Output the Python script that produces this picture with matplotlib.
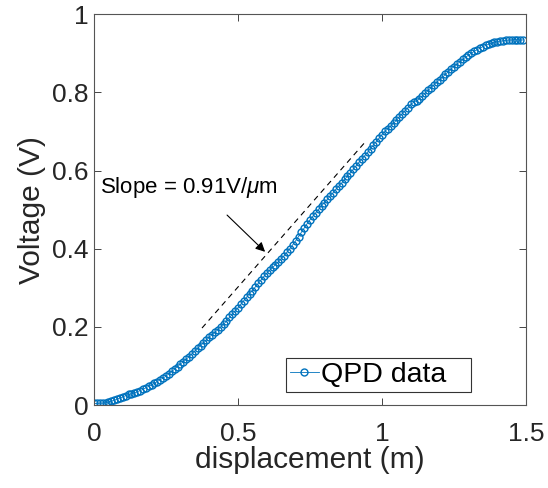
import numpy as np
import matplotlib
matplotlib.use("Agg")
import matplotlib.pyplot as plt

plt.rcParams['font.family'] = ['Liberation Sans', 'DejaVu Sans']
plt.rcParams['mathtext.fontset'] = 'custom'
plt.rcParams['mathtext.it'] = 'Liberation Sans:italic'
plt.rcParams['mathtext.rm'] = 'Liberation Sans'

# QPD voltage, one sample every 0.01 m starting at 0
step = 0.01
voltage = [
    0.004, 0.004, 0.005, 0.005, 0.006, 0.008, 0.010, 0.012, 0.015, 0.018,
    0.021, 0.024, 0.027, 0.029, 0.031, 0.034, 0.037, 0.040, 0.044, 0.048,
    0.052, 0.056, 0.060, 0.065, 0.069, 0.074, 0.080, 0.086, 0.092, 0.098,
    0.105, 0.111, 0.117, 0.124, 0.131, 0.138, 0.145, 0.152, 0.159, 0.166,
    0.174, 0.180, 0.186, 0.193, 0.200, 0.207, 0.215, 0.224, 0.232, 0.240,
    0.249, 0.258, 0.267, 0.276, 0.285, 0.293, 0.302, 0.311, 0.320, 0.329,
    0.337, 0.345, 0.352, 0.359, 0.366, 0.374, 0.382, 0.391, 0.400, 0.410,
    0.420, 0.431, 0.442, 0.453, 0.464, 0.474, 0.483, 0.492, 0.501, 0.510,
    0.518, 0.526, 0.535, 0.543, 0.552, 0.560, 0.568, 0.577, 0.586, 0.594,
    0.603, 0.612, 0.621, 0.629, 0.638, 0.647, 0.656, 0.665, 0.674, 0.683,
    0.692, 0.700, 0.707, 0.714, 0.721, 0.729, 0.737, 0.745, 0.753, 0.761,
    0.769, 0.775, 0.779, 0.783, 0.790, 0.798, 0.805, 0.812, 0.819, 0.826,
    0.832, 0.839, 0.846, 0.853, 0.860, 0.866, 0.872, 0.878, 0.884, 0.890,
    0.895, 0.900, 0.905, 0.909, 0.913, 0.917, 0.920, 0.923, 0.926, 0.928,
    0.930, 0.931, 0.932, 0.933, 0.934, 0.934, 0.935, 0.934, 0.934, 0.934,
]
displacement = np.arange(len(voltage)) * step

# fitted slope line end points
fit_x = [0.375, 0.944]
fit_y = [0.197, 0.675]

label_text = r'Slope = 0.91V/$\mu$m'
text_pos = (0.02, 0.557)
arrow_tail = (0.462, 0.486)
arrow_head = (0.594, 0.392)

blue = '#0072BD'
axis_grey = '#262626'

fig = plt.figure(figsize=(5.48, 4.88), dpi=100)
ax = fig.add_axes([0.1715, 0.170, 0.7885, 0.801])

ax.plot(displacement, voltage, '-o', color=blue, lw=0.6, ms=5.0,
        mfc='none', mew=1.0, label='QPD data')
ax.plot(fit_x, fit_y, '--', color='black', lw=0.8, dashes=(5, 4))

ax.text(text_pos[0], text_pos[1], label_text, fontsize=16, va='center',
        ha='left', color='black')
ax.annotate('', xy=arrow_head, xytext=arrow_tail,
            arrowprops=dict(arrowstyle='-|>', color='black', lw=0.8,
                            mutation_scale=14, shrinkA=0, shrinkB=0))

ax.set_xlim(0, 1.5)
ax.set_ylim(0, 1)
ax.set_xticks([0, 0.5, 1, 1.5])
ax.set_xticklabels(['0', '0.5', '1', '1.5'])
ax.set_yticks([0, 0.2, 0.4, 0.6, 0.8, 1])
ax.set_yticklabels(['0', '0.2', '0.4', '0.6', '0.8', '1'])
ax.tick_params(direction='in', length=5, width=0.6, colors=axis_grey,
               labelsize=19, top=True, right=True, pad=4)
ax.tick_params(axis='x', pad=12)
for s in ax.spines.values():
    s.set_color('#555555')
    s.set_linewidth(0.8)

ax.set_xlabel('displacement (m)', fontsize=21.5, color=axis_grey, labelpad=0)
ax.set_ylabel('Voltage (V)', fontsize=21.5, color=axis_grey, labelpad=4)

leg = ax.legend(loc='lower left', bbox_to_anchor=(0.444, 0.033, 0.429, 0.082),
                mode='expand', fontsize=20.5, fancybox=False, framealpha=1,
                edgecolor='#333333', handlelength=1.0, handletextpad=0.1,
                borderpad=0.15, borderaxespad=0)
leg.get_frame().set_linewidth(0.8)

fig.savefig('out.png', dpi=100)
